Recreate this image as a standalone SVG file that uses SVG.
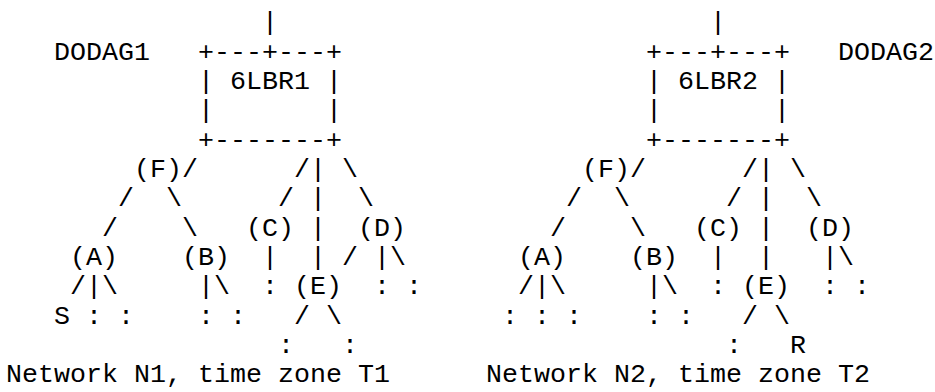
<svg xmlns="http://www.w3.org/2000/svg" width="935" height="392" viewBox="0 0 935 392" xml:space="preserve">
<style>
text { font-family: "Liberation Mono", "Courier New", monospace; font-size: 26.667px; fill: #000; white-space: pre; }
</style>
<rect x="0" y="0" width="935" height="392" fill="#fff"/>
<g id="labels">
<text x="54" y="59.6">DODAG1</text>
<text x="838" y="59.6">DODAG2</text>
<text x="6" y="382.3">Network N1, time zone T1</text>
<text x="486" y="382.3">Network N2, time zone T2</text>
</g>
<g id="node-6LBR1">
<text x="198" y="59.6">+---+---+</text>
<text x="198" y="89">| 6LBR1 |</text>
<text x="198" y="118.3">|       |</text>
<text x="198" y="147.6">+-------+</text>
</g>
<g id="node-6LBR2">
<text x="646" y="59.6">+---+---+</text>
<text x="646" y="89">| 6LBR2 |</text>
<text x="646" y="118.3">|       |</text>
<text x="646" y="147.6">+-------+</text>
</g>
<g id="nodes-N1">
<g id="n1-F"><text x="134" y="177">(F)</text></g>
<g id="n1-C"><text x="246" y="235.6">(C)</text></g>
<g id="n1-D"><text x="358" y="235.6">(D)</text></g>
<g id="n1-A"><text x="70" y="264.9">(A)</text></g>
<g id="n1-B"><text x="182" y="264.9">(B)</text></g>
<g id="n1-E"><text x="294" y="294.3">(E)</text></g>
<g id="n1-S"><text x="54" y="323.6">S</text></g>
</g>
<g id="nodes-N2">
<g id="n2-F"><text x="582" y="177">(F)</text></g>
<g id="n2-C"><text x="694" y="235.6">(C)</text></g>
<g id="n2-D"><text x="806" y="235.6">(D)</text></g>
<g id="n2-A"><text x="518" y="264.9">(A)</text></g>
<g id="n2-B"><text x="630" y="264.9">(B)</text></g>
<g id="n2-E"><text x="742" y="294.3">(E)</text></g>
<g id="n2-R"><text x="790" y="352.9">R</text></g>
</g>
<g id="connectors">
<text x="262" y="30.3">|</text>
<text x="182" y="177">/</text>
<text x="294" y="177">/| \</text>
<text x="118" y="206.3">/  \</text>
<text x="278" y="206.3">/ |  \</text>
<text x="102" y="235.6">/    \</text>
<text x="310" y="235.6">|</text>
<text x="262" y="264.9">|  | / |\</text>
<text x="70" y="294.3">/|\</text>
<text x="198" y="294.3">|\</text>
<text x="294" y="323.6">/ \</text>
<text x="710" y="30.3">|</text>
<text x="630" y="177">/</text>
<text x="742" y="177">/| \</text>
<text x="566" y="206.3">/  \</text>
<text x="726" y="206.3">/ |  \</text>
<text x="550" y="235.6">/    \</text>
<text x="758" y="235.6">|</text>
<text x="710" y="264.9">|  |   |\</text>
<text x="518" y="294.3">/|\</text>
<text x="646" y="294.3">|\</text>
<text x="742" y="323.6">/ \</text>
</g>
<g id="leaves">
<text x="262" y="294.3">:</text>
<text x="374" y="294.3">: :</text>
<text x="86" y="323.6">: :</text>
<text x="198" y="323.6">: :</text>
<text x="278" y="352.9">:   :</text>
<text x="710" y="294.3">:</text>
<text x="822" y="294.3">: :</text>
<text x="502" y="323.6">: : :</text>
<text x="646" y="323.6">: :</text>
<text x="726" y="352.9">:</text>
</g>
</svg>
